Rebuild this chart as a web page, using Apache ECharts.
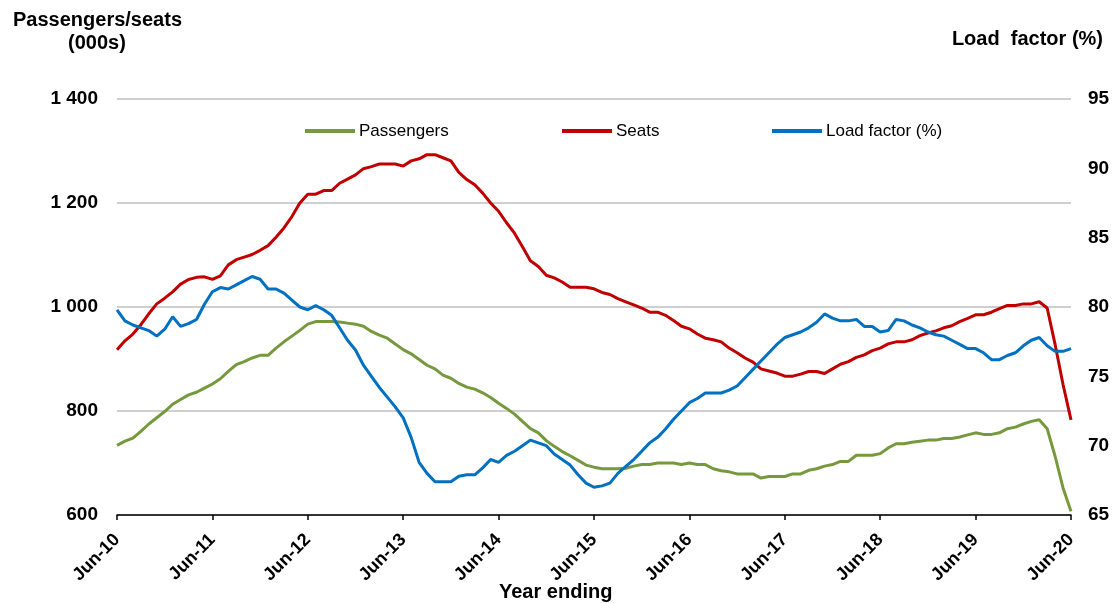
<!DOCTYPE html>
<html>
<head>
<meta charset="utf-8">
<script src="https://cdn.jsdelivr.net/npm/echarts@6/dist/echarts.min.js"></script>
<style>html,body{margin:0;padding:0;background:#fff}#c{width:1116px;height:603px}</style>
</head>
<body>
<div id="c"></div>
<script>
var monthNames = ['Jun','Jul','Aug','Sep','Oct','Nov','Dec','Jan','Feb','Mar','Apr','May'];
var tickLabels = ['Jun-10','Jun-11','Jun-12','Jun-13','Jun-14','Jun-15','Jun-16','Jun-17','Jun-18','Jun-19','Jun-20'];
var leftTicks = [600, 800, 1000, 1200, 1400];
var rightTicks = [65, 70, 75, 80, 85, 90, 95];

var seats = [
  918, 935, 948, 966, 987, 1006, 1017, 1029, 1044, 1053, 1057, 1058,
  1053, 1060, 1081, 1091, 1096, 1101, 1109, 1118, 1134, 1152, 1174, 1200,
  1217, 1217, 1224, 1224, 1238, 1246, 1254, 1266, 1270, 1275, 1275, 1275,
  1271, 1281, 1285, 1293, 1293, 1287, 1281, 1259, 1245, 1235, 1219, 1200,
  1184, 1162, 1142, 1116, 1089, 1078, 1061, 1056, 1048, 1038, 1038, 1038,
  1035, 1028, 1024, 1016, 1010, 1004, 998, 990, 990, 984, 974, 963,
  958, 948, 940, 937, 933, 921, 912, 902, 894, 881, 877, 873,
  867, 867, 871, 876, 876, 872, 881, 890, 895, 903, 908, 916,
  921, 929, 933, 933, 937, 945, 950, 954, 960, 964, 972, 978,
  985, 985, 990, 997, 1003, 1003, 1006, 1006, 1010, 998, 928, 851,
  783
];
var passengers = [
  734, 742, 748, 761, 775, 787, 799, 813, 822, 831, 836, 844,
  852, 862, 876, 889, 895, 902, 907, 907, 921, 933, 944, 955,
  967, 972, 972, 972, 971, 969, 967, 963, 953, 946, 940, 929,
  918, 910, 899, 888, 881, 869, 863, 853, 846, 842, 835, 826,
  815, 805, 794, 780, 766, 758, 743, 732, 722, 714, 705, 696,
  692, 689, 689, 689, 690, 694, 697, 697, 700, 700, 700, 697,
  700, 697, 697, 689, 685, 683, 679, 679, 679, 671, 674, 674,
  674, 679, 679, 686, 689, 694, 697, 703, 703, 715, 715, 715,
  718, 729, 737, 737, 740, 742, 744, 744, 747, 747, 750, 754,
  758, 755, 755, 758, 766, 769, 775, 780, 783, 766, 713, 652,
  607
];
var loadFactor = [
  79.8, 79.0, 78.7, 78.5, 78.3, 77.9, 78.4, 79.3, 78.6, 78.8, 79.1, 80.2,
  81.1, 81.4, 81.3, 81.6, 81.9, 82.2, 82.0, 81.3, 81.3, 81.0, 80.5, 80.0,
  79.8, 80.1, 79.8, 79.4, 78.5, 77.6, 76.9, 75.8, 75.0, 74.2, 73.5, 72.8,
  72.0, 70.6, 68.8, 68.0, 67.4, 67.4, 67.4, 67.8, 67.9, 67.9, 68.4, 69.0,
  68.8, 69.3, 69.6, 70.0, 70.4, 70.2, 70.0, 69.4, 69.0, 68.6, 67.9, 67.3,
  67.0, 67.1, 67.3, 68.0, 68.5, 69.0, 69.6, 70.2, 70.6, 71.2, 71.9, 72.5,
  73.1, 73.4, 73.8, 73.8, 73.8, 74.0, 74.3, 74.9, 75.5, 76.1, 76.7, 77.3,
  77.8, 78.0, 78.2, 78.5, 78.9, 79.5, 79.2, 79.0, 79.0, 79.1, 78.6, 78.6,
  78.2, 78.3, 79.1, 79.0, 78.7, 78.5, 78.2, 78.0, 77.9, 77.6, 77.3, 77.0,
  77.0, 76.7, 76.2, 76.2, 76.5, 76.7, 77.2, 77.6, 77.8, 77.2, 76.8, 76.8,
  77.0
];

// month category labels Jun-10 .. Jun-20
var categories = [];
for (var i = 0; i < seats.length; i++) {
  var yr = 10 + Math.floor((i + 5) / 12);
  categories.push(monthNames[i % 12] + '-' + yr);
}

var FONT = 'Liberation Sans, Arial, sans-serif';
var chart = echarts.init(document.getElementById('c'));
function legendAt(name, left) {
  return {
    data: [name], left: left, top: 122, padding: 0, icon: 'rect', itemWidth: 50, itemHeight: 4,
    itemGap: 0, textStyle: {fontFamily: FONT, fontSize: 17, lineHeight: 18, color: '#000', padding: [0,0,0,-1]}
  };
}
chart.setOption({
  animation: false,
  backgroundColor: '#fff',
  grid: {left: 117, right: 45, top: 99, bottom: 88, containLabel: false},
  legend: [legendAt('Passengers', 305), legendAt('Seats', 562), legendAt('Load factor (%)', 772)],
  graphic: [
    {type: 'text', left: 13, top: 10, style: {text: 'Passengers/seats', font: 'bold 20px ' + FONT, fill: '#000'}},
    {type: 'text', left: 68, top: 33, style: {text: '(000s)', font: 'bold 20px ' + FONT, fill: '#000'}},
    {type: 'text', right: 13, top: 29, style: {text: 'Load  factor (%)', font: 'bold 20px ' + FONT, fill: '#000'}},
    {type: 'text', left: 499, top: 582, style: {text: 'Year ending', font: 'bold 20px ' + FONT, fill: '#000'}}
  ],
  xAxis: {
    type: 'category', data: categories, boundaryGap: false,
    axisLine: {lineStyle: {color: '#000', width: 1.5}},
    axisTick: {interval: function (idx) { return idx % 12 === 0; }, length: 5, lineStyle: {color: '#000', width: 1.5}},
    axisLabel: {
      interval: function (idx) { return idx % 12 === 0; },
      rotate: 45, margin: 22,
      formatter: function (v, idx) { return tickLabels.indexOf(v) >= 0 ? v : ''; },
      fontFamily: FONT, fontWeight: 'bold', fontSize: 18, color: '#000'
    },
    splitLine: {show: false}
  },
  yAxis: [
    {
      type: 'value', min: leftTicks[0], max: leftTicks[leftTicks.length - 1], interval: 200,
      axisLine: {show: false}, axisTick: {show: false},
      axisLabel: {margin: 19, fontFamily: FONT, fontWeight: 'bold', fontSize: 19, color: '#000',
        formatter: function (v) { return String(v).replace(/\B(?=(\d{3})+(?!\d))/g, ' '); }},
      splitLine: {lineStyle: {color: '#BFBFBF', width: 1.5}}
    },
    {
      type: 'value', min: rightTicks[0], max: rightTicks[rightTicks.length - 1], interval: 5,
      axisLine: {show: false}, axisTick: {show: false},
      axisLabel: {margin: 17, fontFamily: FONT, fontWeight: 'bold', fontSize: 19, color: '#000'},
      splitLine: {show: false}
    }
  ],
  series: [
    {name: 'Passengers', type: 'line', data: passengers, yAxisIndex: 0, showSymbol: false,
      lineStyle: {color: '#77993E', width: 3}, itemStyle: {color: '#77993E'}, z: 3},
    {name: 'Seats', type: 'line', data: seats, yAxisIndex: 0, showSymbol: false,
      lineStyle: {color: '#C00000', width: 3}, itemStyle: {color: '#C00000'}, z: 4},
    {name: 'Load factor (%)', type: 'line', data: loadFactor, yAxisIndex: 1, showSymbol: false,
      lineStyle: {color: '#0070C0', width: 3}, itemStyle: {color: '#0070C0'}, z: 5}
  ]
});
</script>
</body>
</html>
